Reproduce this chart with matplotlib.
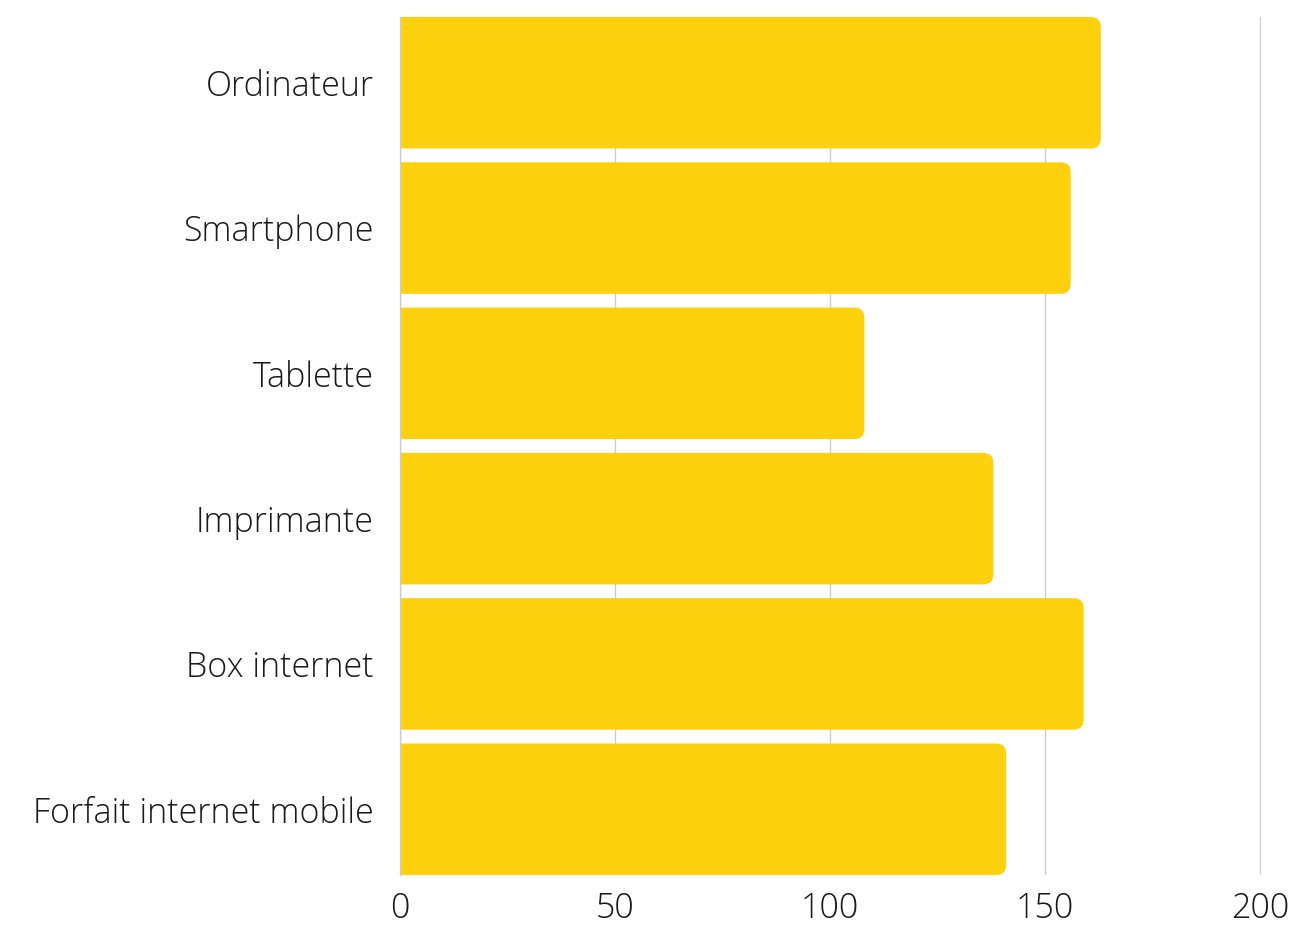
import matplotlib.pyplot as plt
from matplotlib.patches import FancyBboxPatch

# Data
categories = ["Ordinateur", "Smartphone", "Tablette", "Imprimante",
              "Box internet", "Forfait internet mobile"]
values = [163, 156, 108, 138, 159, 141]
xticks = [0, 50, 100, 150, 200]

plt.rcParams["font.family"] = ["Open Sans", "DejaVu Sans"]

fig = plt.figure(figsize=(12.95, 9.3), dpi=100)
ax = fig.add_axes([400 / 1295, 55 / 930, 861 / 1295, 858 / 930])

bar_h = 0.905
ax.set_xlim(0, 200.25)
ax.set_ylim(len(categories) - 1 + bar_h / 2, -bar_h / 2)

# rounded right corners (radius ~10 px)
x_per_px = 200.25 / 861
y_per_px = (len(categories) - 1 + bar_h) / 858
r = 10 * x_per_px
aspect = y_per_px / x_per_px
color = "#FDD10D"
for i, v in enumerate(values):
    box = FancyBboxPatch((-5, i - bar_h / 2), v + 5, bar_h,
                         boxstyle=f"round,pad=0,rounding_size={r}",
                         mutation_aspect=aspect,
                         facecolor=color, edgecolor="none", zorder=2)
    ax.add_patch(box)

ax.set_yticks(range(len(categories)))
ax.set_yticklabels(categories)
ax.set_xticks(xticks)
ax.set_xticklabels([str(t) for t in xticks])

ax.tick_params(axis="both", length=0, labelsize=24.5, labelcolor="#1a1a1a")
ax.tick_params(axis="y", pad=19)
ax.tick_params(axis="x", pad=12)
for lab in ax.get_xticklabels() + ax.get_yticklabels():
    lab.set_fontweight(300)

ax.grid(axis="x", color="#cccccc", linewidth=1, zorder=0)
ax.set_axisbelow(True)
for s in ["top", "right", "bottom"]:
    ax.spines[s].set_visible(False)
ax.spines["left"].set_color("#cccccc")
ax.spines["left"].set_linewidth(1)
ax.spines["left"].set_zorder(3)

plt.savefig("out.png", dpi=100)
plt.close()
